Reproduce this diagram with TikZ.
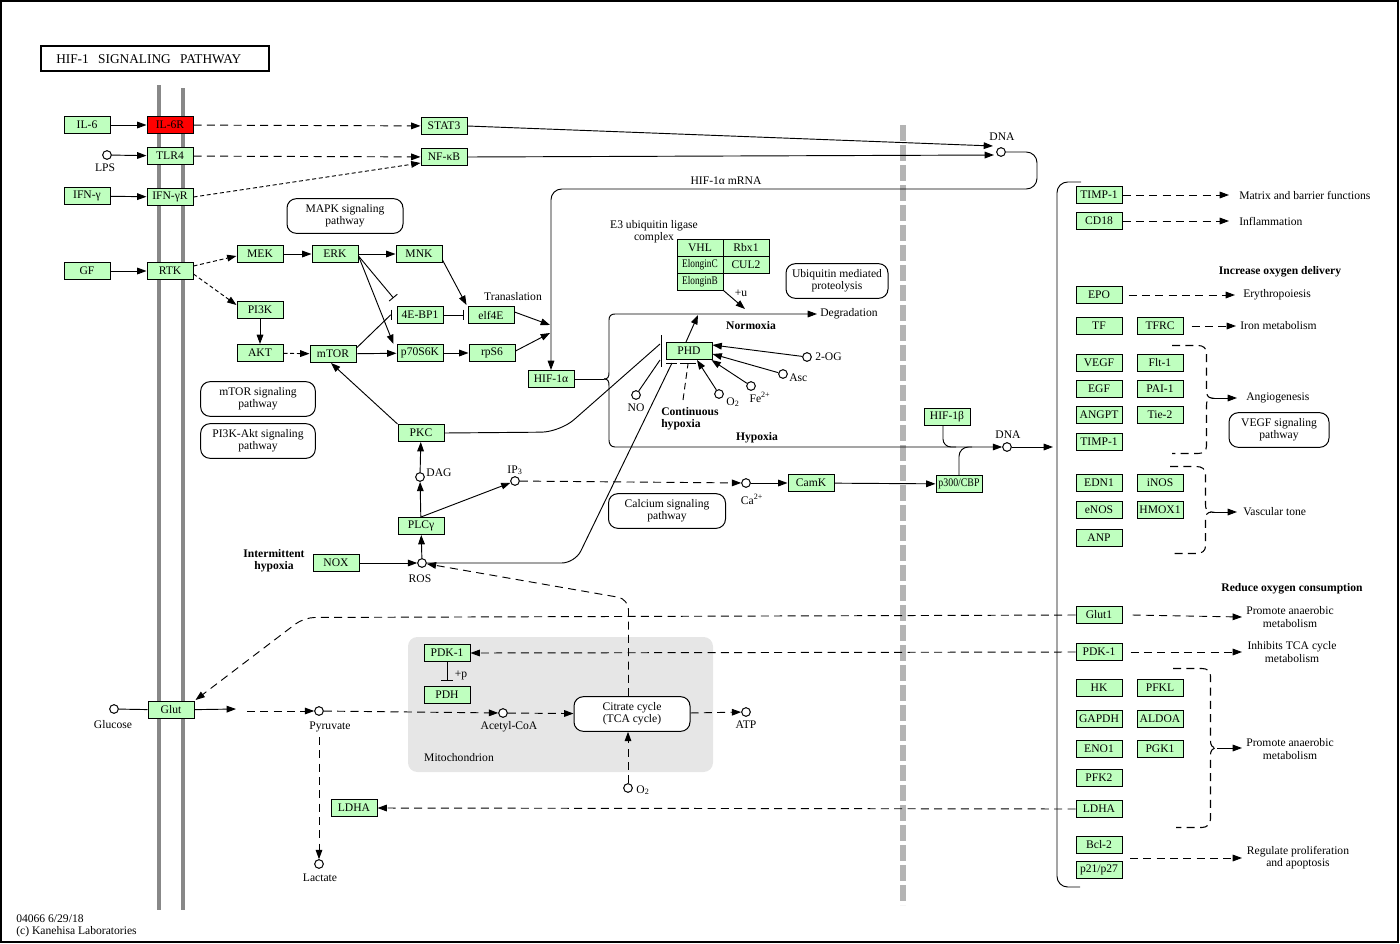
\documentclass[tikz,border=0pt]{standalone}
\usepackage{fontspec}
\setmainfont{Liberation Serif}
\usepackage{graphicx}
\usetikzlibrary{arrows.meta,calc}
\definecolor{gfill}{HTML}{BFFFBF}
\definecolor{memb}{HTML}{888888}
\definecolor{nucl}{HTML}{B4B4B4}
\definecolor{mito}{HTML}{E6E6E6}
\newcommand\kfs{\fontsize{8.7}{9.2}\selectfont}
\begin{document}
\begin{tikzpicture}[x=0.75pt,y=-0.75pt,
  every node/.style={font=\kfs},
  gene/.style={draw,fill=gfill,minimum width=34.5pt,minimum height=12.75pt,inner sep=0pt,line width=0.75pt},
  cpd/.style={circle,draw,fill=white,minimum size=6.5pt,inner sep=0pt,line width=0.75pt},
  pmap/.style={draw,rounded corners=7pt,align=center,inner sep=0pt,line width=0.75pt,minimum height=26pt},
  lab/.style={inner sep=0pt,align=center},
  blab/.style={inner sep=0pt,align=center,font=\kfs\bfseries},
  ln/.style={line width=0.7pt},
  arr/.style={-{Triangle[length=7pt,width=5pt]},line width=0.7pt},
  inh/.style={-{Bar[width=8pt]},line width=0.7pt},
  dsh/.style={dash pattern=on 6pt off 4pt},
  sdsh/.style={dash pattern=on 3pt off 2pt},
]
\useasboundingbox (0,0) rectangle (1400,943);
\draw[line width=1.1pt] (1,1) rectangle (1398,942);

% title
\node[draw,line width=1.5pt,minimum width=171pt,minimum height=18.75pt,inner sep=0pt] (title) at (155,58.5) {};
\node[anchor=west,inner sep=0pt,font=\fontsize{10}{11}\selectfont] (titletext) at (56,59) {HIF-1\hspace{7pt}SIGNALING\hspace{7pt}PATHWAY};

% membranes
\draw[memb,line width=3.3pt] (159,85) -- (159,910);
\draw[memb,line width=3.3pt] (183,88) -- (183,910);
\draw[nucl,line width=4.5pt,dash pattern=on 12pt off 3pt] (903,125) -- (903,905);
\fill[mito,rounded corners=7pt] (408,637) rectangle (713,772);
\node[lab] (mitolab) at (459,758) {Mitochondrion};

% pathway maps
\node[pmap,minimum width=87pt] (mapk) at (345,216) {MAPK signaling\\pathway};
\node[pmap,minimum width=76.5pt] (ubiq) at (837,281) {Ubiquitin mediated\\proteolysis};
\node[pmap,minimum width=86pt] (mtorp) at (258,399) {mTOR signaling\\pathway};
\node[pmap,minimum width=86pt] (pi3kp) at (258,441) {PI3K-Akt signaling\\pathway};
\node[pmap,minimum width=87.75pt] (calc) at (667,511) {Calcium signaling\\pathway};
\node[pmap,minimum width=75pt] (vegfp) at (1279,430) {VEGF signaling\\pathway};
\node[pmap,minimum width=87pt,fill=white] (tca) at (632,714) {Citrate cycle\\(TCA cycle)};

% genes left
\node[gene] (il6) at (87,125) {IL-6};
\node[gene,fill=red] (il6r) at (170,125) {IL-6R};
\node[gene] (stat3) at (444,126) {STAT3};
\node[gene] (tlr4) at (170,156) {TLR4};
\node[gene] (nfkb) at (444,157) {NF-κB};
\node[gene] (ifng) at (87,196) {IFN-γ};
\node[gene] (ifngr) at (170,197) {IFN-γR};
\node[gene] (gf) at (87,271) {GF};
\node[gene] (rtk) at (170,271) {RTK};
\node[gene] (mek) at (260,254) {MEK};
\node[gene] (erk) at (335,254) {ERK};
\node[gene] (mnk) at (419,254) {MNK};
\node[gene] (pi3k) at (260,310) {PI3K};
\node[gene] (akt) at (260,353) {AKT};
\node[gene] (mtor) at (333,354) {mTOR};
\node[gene] (ebp) at (420,315) {4E-BP1};
\node[gene] (p70) at (420,353) {p70S6K};
\node[gene] (elf) at (491,315) {elf4E};
\node[gene] (rps6) at (492,353) {rpS6};
\node[gene] (hif1a) at (551,379) {HIF-1α};
\node[gene] (pkc) at (421,433) {PKC};
\node[gene] (plcg) at (421,526) {PLCγ};
\node[gene] (nox) at (336,563) {NOX};
\node[gene] (camk) at (811,483) {CamK};
\node[gene] (p300) at (959,484) {\scalebox{0.85}[1]{p300/CBP}};
\node[gene] (hif1b) at (947,417) {HIF-1β};
\node[gene] (phd) at (689,351) {PHD};
\node[gene] (vhl) at (700,247.5) {VHL};
\node[gene] (rbx) at (746,247.5) {Rbx1};
\node[gene] (elc) at (700,264.5) {\scalebox{0.8}[1]{ElonginC}};
\node[gene] (cul) at (746,264.5) {CUL2};
\node[gene] (elb) at (700,281.5) {\scalebox{0.8}[1]{ElonginB}};
\node[gene] (glut) at (171,710) {Glut};
\node[gene] (pdkm) at (447,653) {PDK-1};
\node[gene] (pdh) at (447,695) {PDH};
\node[gene] (ldham) at (354,808) {LDHA};

% genes right
\node[gene] (timpa) at (1099,195) {TIMP-1};
\node[gene] (cd18) at (1099,221) {CD18};
\node[gene] (epo) at (1099,295) {EPO};
\node[gene] (tf) at (1099,326) {TF};
\node[gene] (tfrc) at (1160,326) {TFRC};
\node[gene] (vegf) at (1099,363) {VEGF};
\node[gene] (flt) at (1160,363) {Flt-1};
\node[gene] (egf) at (1099,389) {EGF};
\node[gene] (pai) at (1160,389) {PAI-1};
\node[gene] (angpt) at (1099,415) {ANGPT};
\node[gene] (tie) at (1160,415) {Tie-2};
\node[gene] (timpb) at (1099,442) {TIMP-1};
\node[gene] (edn) at (1099,483) {EDN1};
\node[gene] (inos) at (1160,483) {iNOS};
\node[gene] (enos) at (1099,510) {eNOS};
\node[gene] (hmox) at (1160,510) {HMOX1};
\node[gene] (anp) at (1099,538) {ANP};
\node[gene] (glutr) at (1099,615) {Glut1};
\node[gene] (pdkr) at (1099,652) {PDK-1};
\node[gene] (hk) at (1099,688) {HK};
\node[gene] (pfkl) at (1160,688) {PFKL};
\node[gene] (gapdh) at (1099,719) {GAPDH};
\node[gene] (aldoa) at (1160,719) {ALDOA};
\node[gene] (eno) at (1099,749) {ENO1};
\node[gene] (pgk) at (1160,749) {PGK1};
\node[gene] (pfk2) at (1099,778) {PFK2};
\node[gene] (ldhar) at (1099,809) {LDHA};
\node[gene] (bcl) at (1099,845) {Bcl-2};
\node[gene] (p21) at (1099,870) {p21/p27};

% compounds
\node[cpd] (dna1) at (1001,152) {};
\node[cpd] (lps) at (107,155) {};
\node[cpd] (ros) at (422,563) {};
\node[cpd] (dag) at (420,477) {};
\node[cpd] (ip3) at (515,481) {};
\node[cpd] (ca) at (746,483) {};
\node[cpd] (dna2) at (1007,447) {};
\node[cpd] (og) at (807,357) {};
\node[cpd] (asc) at (783,374) {};
\node[cpd] (fe) at (751,386) {};
\node[cpd] (o2p) at (719,394) {};
\node[cpd] (no) at (636,395) {};
\node[cpd] (glc) at (114,709) {};
\node[cpd] (pyr) at (319,711) {};
\node[cpd] (acoa) at (503,713) {};
\node[cpd] (atp) at (746,712) {};
\node[cpd] (o2m) at (628,788) {};
\node[cpd] (lac) at (319,864) {};

% compound labels
\node[lab] (dna1l) at (1002,137) {DNA};
\node[lab] (lpsl) at (105,168) {LPS};
\node[lab] (rosl) at (420,579) {ROS};
\node[lab] (dagl) at (439,473) {DAG};
\node[lab] (ip3l) at (515,470) {IP\textsubscript{3}};
\node[lab] (cal) at (752,499) {Ca\textsuperscript{2+}};
\node[lab] (dna2l) at (1008,435) {DNA};
\node[lab,anchor=west] (ogl) at (815,357) {2-OG};
\node[lab,anchor=west] (ascl) at (789,378) {Asc};
\node[lab] (fel) at (760,397) {Fe\textsuperscript{2+}};
\node[lab] (o2pl) at (733,402) {O\textsubscript{2}};
\node[lab] (nol) at (636,408) {NO};
\node[lab] (glcl) at (113,725) {Glucose};
\node[lab] (pyrl) at (330,727) {Pyruvate};
\node[lab] (acoal) at (509,727) {Acetyl-CoA};
\node[lab] (atpl) at (746,725) {ATP};
\node[lab] (o2ml) at (643,790) {O\textsubscript{2}};
\node[lab] (lacl) at (320,878) {Lactate};

% other labels
\node[lab] (mrnal) at (726,181) {HIF-1α mRNA};
\node[lab] (transl) at (513,297) {Tranaslation};
\node[lab] (e3l) at (654,232) {E3 ubiquitin ligase\\complex};
\node[lab] (ul) at (741,293) {+u};
\node[lab,anchor=west] (deg) at (820,314) {Degradation};
\node[blab] (normo) at (751,326) {Normoxia};
\node[blab] (hypo) at (757,438) {Hypoxia};
\node[blab,align=left,anchor=west] (conth) at (661,419) {Continuous\\hypoxia};
\node[blab] (interh) at (274,561) {Intermittent\\hypoxia};
\node[lab] (pl) at (461,675) {+p};
\node[blab] (incr) at (1280,272) {Increase oxygen delivery};
\node[blab] (redu) at (1292,589) {Reduce oxygen consumption};
\node[lab,anchor=west] (matr) at (1239,195) {Matrix and barrier functions};
\node[lab,anchor=west] (infl) at (1239,221) {Inflammation};
\node[lab,anchor=west] (eryt) at (1243,295) {Erythropoiesis};
\node[lab,anchor=west] (iron) at (1240,326) {Iron metabolism};
\node[lab,anchor=west] (angio) at (1246,398) {Angiogenesis};
\node[lab,anchor=west] (vasc) at (1243,512) {Vascular tone};
\node[lab] (anaer1) at (1290,617) {Promote anaerobic\\metabolism};
\node[lab] (tcainh) at (1292,652) {Inhibits TCA cycle\\metabolism};
\node[lab] (anaer2) at (1290,749) {Promote anaerobic\\metabolism};
\node[lab] (prol) at (1298,858) {Regulate proliferation\\and apoptosis};
\node[lab,anchor=west,align=left] (foot) at (16,926) {04066 6/29/18\\(c) Kanehisa Laboratories};

% ---- edges: receptors
\draw[arr] (il6) -- (il6r);
\draw[arr,dsh] (il6r) -- (stat3);
\draw[arr] (stat3.east) -- ($(dna1)+(-8,-6)$);
\draw[arr] (lps) -- (tlr4);
\draw[arr,dsh] (tlr4) -- (nfkb);
\draw[arr] (nfkb.east) -- ($(dna1)+(-7,3)$);
\draw[arr] (ifng) -- (ifngr);
\draw[arr,sdsh] (ifngr.east) -- ($(nfkb.west)+(0,6)$);
\draw[arr] (gf) -- (rtk);
\draw[arr,sdsh] ($(rtk.east)+(0,-5)$) -- ($(mek.west)+(0,2)$);
\draw[arr,sdsh] ($(rtk.east)+(0,3)$) -- ($(pi3k.west)+(0,-5)$);
\draw[arr] (mek) -- (erk);
\draw[arr] (erk) -- (mnk);
\draw[arr] (pi3k) -- (akt);
\draw[arr,sdsh] (akt) -- (mtor);
\draw[arr] (mtor) -- (p70);
\draw[arr] (p70) -- (rps6);
\draw[arr] ($(erk.east)+(0,2)$) -- ($(p70.north west)+(-3,0)$);
\draw[inh] ($(erk.east)+(0,2)$) -- ($(ebp.west)+(-3,-17)$);
\draw[inh] ($(mtor.north east)+(0,3)$) -- ($(ebp.west)+(-6,0)$) -- ($(ebp.west)+(-5,0)$);
\draw[inh] (ebp) -- ($(elf.west)+(-4,0)$);
\draw[arr] ($(mnk.east)+(0,6)$) -- ($(elf.north west)+(-1,-1)$);
\coordinate (tr1) at (550,325);
\coordinate (tr2) at (550,333);
\draw[arr] ($(elf.east)+(0,-3)$) -- (tr1);
\draw[arr] ($(rps6.east)+(0,-2)$) -- (tr2);
\draw[arr,rounded corners=8pt] (dna1.east) -- (1037,152) -- (1037,189) -- (551,189) -- (hif1a.north);

% PKC / PLC / ROS
\draw[arr] (pkc.north west) -- ($(mtor.south)+(-2,0)$);
\draw[arr] (dag) -- (pkc);
\draw[arr] (plcg) -- (dag);
\draw[arr] (plcg.north) -- (ip3);
\draw[arr,dsh] (ip3) -- (ca);
\draw[arr] (ca) -- (camk);
\draw[arr] (camk) -- (p300);
\draw[arr] (nox) -- (ros);
\draw[arr] (ros) -- (plcg);

% HIF-1a fate
\draw[ln] (hif1a.east) -- (604,379);
\coordinate (degtip) at (817,314);
\draw[arr] (604,379) .. controls (608,379) and (609,377) .. (609,372) -- (609,320) .. controls (609,316) and (611,314) .. (615,314) -- (degtip);
\draw[arr] (604,379) .. controls (608,379) and (609,381) .. (609,386) -- (609,440) .. controls (609,444) and (611,447) .. (615,447) -- (dna2);
\coordinate (brk) at (1053,447);
\draw[arr] (dna2) -- (brk);
\draw[ln,rounded corners=6pt] ($(hif1b.south)+(-4,0)$) -- (943,447) -- (956,447);
\draw[ln,rounded corners=7pt] (p300.north) -- (959,447) -- (972,447);

% PHD
\coordinate (nrm) at (698,315);
\draw[arr] ($(phd.north)+(-3,0)$) -- (nrm);
\draw[arr] (og) -- ($(phd.east)+(0,-6)$);
\draw[arr] (asc) -- ($(phd.east)+(0,3)$);
\draw[arr] (fe) -- ($(phd.south east)+(-1,0)$);
\draw[arr] (o2p) -- ($(phd.south)+(8,0)$);
\coordinate (ubq) at (745,309);
\draw[arr] (elb.south east) -- (ubq);
\draw[ln] (661,335) -- (661,367);
\draw[ln] (no) -- (660,360);
\draw[ln,rounded corners=14pt] (pkc.east) -- (560,432) -- (660,344);
\draw[ln,rounded corners=10pt] (ros.east) -- (575,563) -- (672,363);
\draw[ln] (666,363) -- (677,363);
\draw[ln,dash pattern=on 5pt off 3pt] (683,400) -- (688,364);
\draw[ln] (680,363) -- (696,363);

% glucose metabolism
\coordinate (g1) at (236,709);
\coordinate (g2) at (247,711);
\draw[ln] (glc) -- (glut);
\draw[arr] (glut) -- (g1);
\draw[arr,dsh] (g2) -- (pyr);
\draw[arr,dsh] (pyr) -- (acoa);
\draw[arr,dsh] (acoa) -- (tca);
\draw[arr,dsh] (tca) -- (atp);
\draw[arr,dsh] (o2m) -- ($(tca.south)+(-4,0)$);
\draw[arr,dsh] ($(pyr)+(0,26)$) -- (lac);
\draw[arr,dsh,rounded corners=8pt] ($(tca.north)+(-3.5,0)$) -- (628.5,599) -- (ros);
\draw[ln] (pdkm.south) -- (447,680);
\draw[ln] (441,680) -- (453,680);
\draw[arr,dsh] (pdkr.west) -- (pdkm.east);
\draw[arr,dsh] (ldhar.west) -- (ldham.east);
\draw[arr,dsh,rounded corners=8pt] (glutr.west) -- (304,617.5) -- ($(glut.north east)+(1,-1)$);

% right side
\draw[ln,rounded corners=8pt] (1081,182) -- (1057,182) -- (1057,887) -- (1080,887);
\draw[arr,dsh] (timpa.east) -- (1229,195);
\draw[arr,dsh] (cd18.east) -- (1229,221);
\draw[arr,dsh] ($(epo.east)+(6,0)$) -- (1235,295);
\draw[arr,dsh] ($(tfrc.east)+(8,0)$) -- (1236,326);
\draw[arr,dsh] ($(glutr.east)+(10,0)$) -- (1242,617);
\draw[arr,dsh] ($(pdkr.east)+(8,0)$) -- (1242,652);
\draw[arr,dsh] (1130,858) -- (1242,858);
\begin{scope}[line width=0.8pt]
\draw[dsh] (1172,345.5) -- (1198,345.5) .. controls (1203,345.5) and (1206.5,348) .. (1206.5,353) -- (1206.5,391) .. controls (1206.5,395) and (1208,398) .. (1212,398) .. controls (1208,398) and (1206.5,401) .. (1206.5,405) -- (1206.5,446) .. controls (1206.5,451) and (1203,453.5) .. (1198,453.5) -- (1172,453.5);
\draw[dsh] (1170,466.5) -- (1196,466.5) .. controls (1202,466.5) and (1205.5,469) .. (1205.5,474) -- (1205.5,505) .. controls (1205.5,509) and (1207,512) .. (1212,512) .. controls (1207,512) and (1205.5,515) .. (1205.5,519) -- (1205.5,546) .. controls (1205.5,551) and (1202,553.5) .. (1196,553.5) -- (1170,553.5);
\draw[dsh] (1173,668.5) -- (1202,668.5) .. controls (1207,668.5) and (1210.5,671) .. (1210.5,676) -- (1210.5,741) .. controls (1210.5,745) and (1212,748) .. (1217,748) .. controls (1212,748) and (1210.5,751) .. (1210.5,755) -- (1210.5,819) .. controls (1210.5,824) and (1207,827.5) .. (1202,827.5) -- (1176,827.5);
\end{scope}
\draw[arr] (1212,398) -- (1237,398);
\draw[arr] (1212,512) -- (1237,512);
\draw[arr] (1217,748) -- (1242,748);
\end{tikzpicture}
\end{document}
